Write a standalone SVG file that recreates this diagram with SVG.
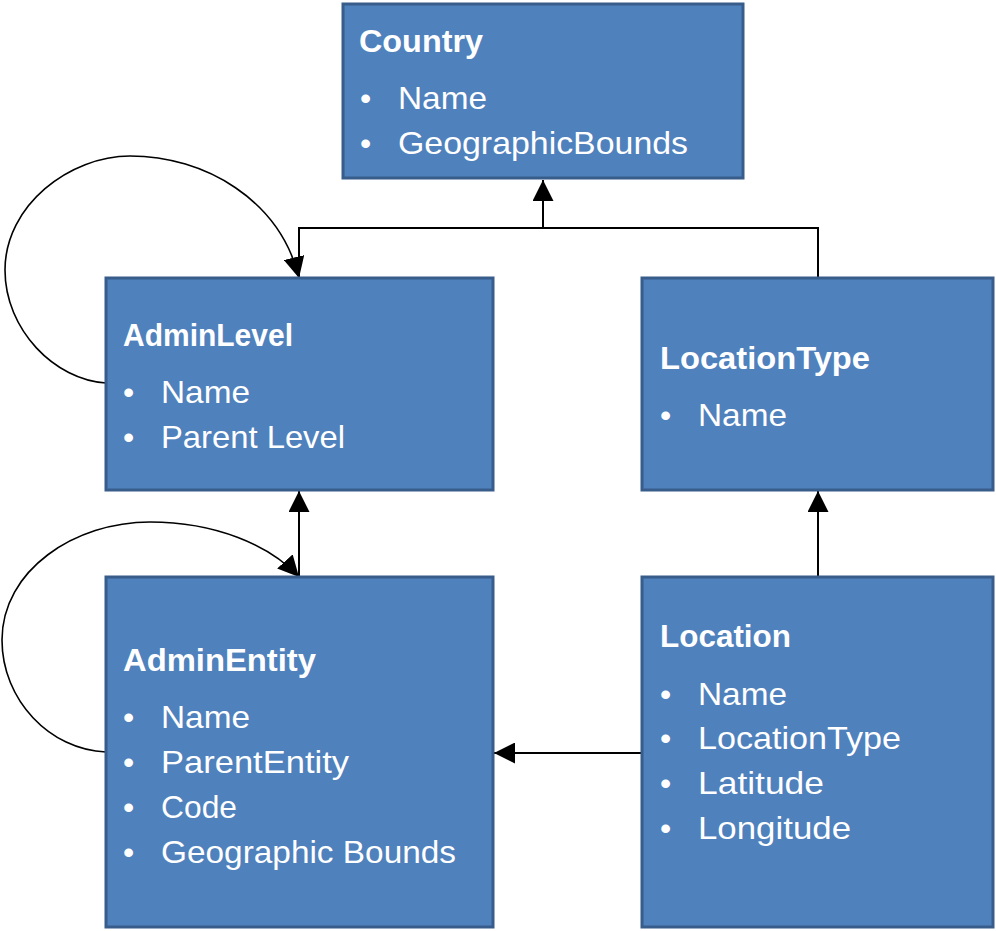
<svg xmlns="http://www.w3.org/2000/svg" width="996" height="931" viewBox="0 0 996 931">
<style>
.box{fill:#4f81bd;stroke:#385d8a;stroke-width:3}
.t{font-family:"Liberation Sans",Arial,sans-serif;font-size:32px;fill:#ffffff}
.b{font-weight:bold}
.ln{fill:none;stroke:#000;stroke-width:2}
.lp{fill:none;stroke:#000;stroke-width:1.6}
</style>
<defs>
<marker id="ah" markerUnits="userSpaceOnUse" markerWidth="21" markerHeight="21" viewBox="0 0 20 20" refX="20" refY="10" orient="auto">
<path d="M0,0 L20,10 L0,20 z" fill="#000"/>
</marker>
</defs>
<rect width="996" height="931" fill="#fff"/>
<g id="connectors">
<path class="ln" d="M299,278 V228 H818 V278"/>
<path class="ln" d="M543,228 V180" marker-end="url(#ah)"/>
<path class="ln" d="M299,577 V491" marker-end="url(#ah)"/>
<path class="ln" d="M818,577 V491" marker-end="url(#ah)"/>
<path class="ln" d="M642,753 H494" marker-end="url(#ah)"/>
<path class="lp" d="M106,383 C55,380 5,330 5,270 C5,205 70,156 130,156 C205,156 280,200 299,278" marker-end="url(#ah)"/>
<path class="lp" d="M106,752 C50,750 2,700 2,640 C2,570 75,522 150,522 C215,522 270,545 299,577" marker-end="url(#ah)"/>
</g>
<g id="country">
<rect class="box" x="343" y="4" width="400" height="174"/>
<text class="t b" x="359" y="52" textLength="124" lengthAdjust="spacingAndGlyphs">Country</text>
<text class="t" x="360" y="109">•</text>
<text class="t" x="398" y="109" textLength="89" lengthAdjust="spacingAndGlyphs">Name</text>
<text class="t" x="360" y="154">•</text>
<text class="t" x="398" y="154" textLength="290" lengthAdjust="spacingAndGlyphs">GeographicBounds</text>
</g>
<g id="adminlevel">
<rect class="box" x="106" y="278" width="387" height="212"/>
<text class="t b" x="123" y="346" textLength="170" lengthAdjust="spacingAndGlyphs">AdminLevel</text>
<text class="t" x="123" y="403">•</text>
<text class="t" x="161" y="403" textLength="89" lengthAdjust="spacingAndGlyphs">Name</text>
<text class="t" x="123" y="448">•</text>
<text class="t" x="161" y="448" textLength="184" lengthAdjust="spacingAndGlyphs">Parent Level</text>
</g>
<g id="locationtype">
<rect class="box" x="642" y="278" width="351" height="212"/>
<text class="t b" x="660" y="369" textLength="210" lengthAdjust="spacingAndGlyphs">LocationType</text>
<text class="t" x="660" y="426">•</text>
<text class="t" x="698" y="426" textLength="89" lengthAdjust="spacingAndGlyphs">Name</text>
</g>
<g id="adminentity">
<rect class="box" x="106" y="577" width="387" height="350"/>
<text class="t b" x="123" y="671" textLength="193" lengthAdjust="spacingAndGlyphs">AdminEntity</text>
<text class="t" x="123" y="728">•</text>
<text class="t" x="161" y="728" textLength="89" lengthAdjust="spacingAndGlyphs">Name</text>
<text class="t" x="123" y="773">•</text>
<text class="t" x="161" y="773" textLength="188" lengthAdjust="spacingAndGlyphs">ParentEntity</text>
<text class="t" x="123" y="818">•</text>
<text class="t" x="161" y="818" textLength="76" lengthAdjust="spacingAndGlyphs">Code</text>
<text class="t" x="123" y="863">•</text>
<text class="t" x="161" y="863" textLength="295" lengthAdjust="spacingAndGlyphs">Geographic Bounds</text>
</g>
<g id="location">
<rect class="box" x="642" y="577" width="351" height="350"/>
<text class="t b" x="660" y="647" textLength="131" lengthAdjust="spacingAndGlyphs">Location</text>
<text class="t" x="660" y="705">•</text>
<text class="t" x="698" y="705" textLength="89" lengthAdjust="spacingAndGlyphs">Name</text>
<text class="t" x="660" y="749">•</text>
<text class="t" x="698" y="749" textLength="203" lengthAdjust="spacingAndGlyphs">LocationType</text>
<text class="t" x="660" y="794">•</text>
<text class="t" x="698" y="794" textLength="126" lengthAdjust="spacingAndGlyphs">Latitude</text>
<text class="t" x="660" y="839">•</text>
<text class="t" x="698" y="839" textLength="153" lengthAdjust="spacingAndGlyphs">Longitude</text>
</g>
</svg>
